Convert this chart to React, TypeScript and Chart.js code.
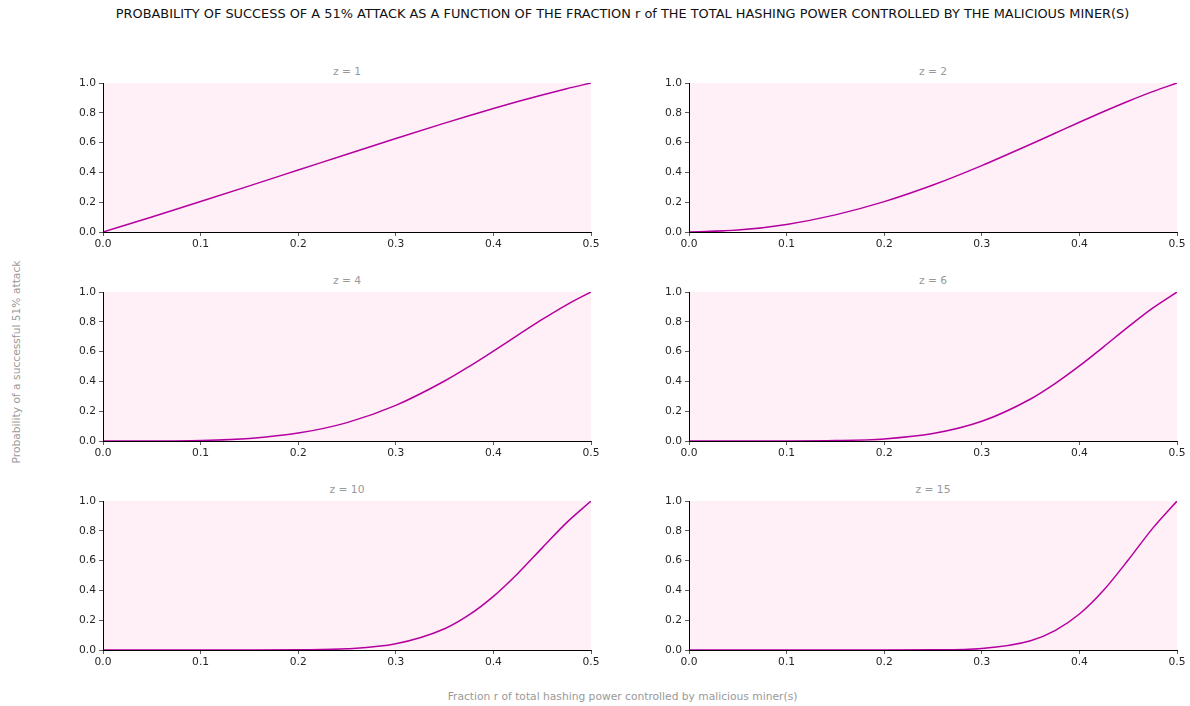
import React, { useEffect, useRef } from "react";
import { Chart, registerables } from "chart.js";

Chart.register(...registerables);

// ---------- data ----------
const fractionR = [0, 0.05, 0.1, 0.15, 0.2, 0.25, 0.3, 0.35, 0.375, 0.4, 0.425, 0.45, 0.475, 0.5];
const probZ1 = [0, 0.1012, 0.2046, 0.3097, 0.4159, 0.5223, 0.6277, 0.7306, 0.7805, 0.8289, 0.8754, 0.9198, 0.9615, 1];
const probZ2 = [0, 0.0126, 0.051, 0.115, 0.2039, 0.3154, 0.4457, 0.5888, 0.6627, 0.7364, 0.8086, 0.8777, 0.9421, 1];
const probZ4 = [0, 0.0002, 0.0035, 0.0173, 0.053, 0.1235, 0.2391, 0.4025, 0.4995, 0.6034, 0.7103, 0.8156, 0.914, 1];
const probZ6 = [0, 0, 0.0002, 0.0027, 0.0142, 0.0499, 0.1321, 0.2821, 0.3851, 0.504, 0.6335, 0.766, 0.8917, 1];
const probZ10 = [0, 0, 0, 0.0001, 0.0016, 0.0085, 0.0417, 0.1428, 0.2351, 0.36, 0.5139, 0.6855, 0.8551, 1];
const probZ15 = [0, 0, 0, 0, 0, 0.0009, 0.0101, 0.0624, 0.1298, 0.2413, 0.4026, 0.6039, 0.8163, 1];

const panelTitles = ["z = 1", "z = 2", "z = 4", "z = 6", "z = 10", "z = 15"];
const panelSeries = [probZ1, probZ2, probZ4, probZ6, probZ10, probZ15];
const xTicks = [0, 0.1, 0.2, 0.3, 0.4, 0.5];
const yTicks = [0, 0.2, 0.4, 0.6, 0.8, 1.0];

const mainTitle =
  "PROBABILITY OF SUCCESS OF A 51% ATTACK AS A FUNCTION OF THE FRACTION r of THE TOTAL HASHING POWER CONTROLLED BY THE MALICIOUS MINER(S)";
const xAxisTitle = "Fraction r of total hashing power controlled by malicious miner(s)";
const yAxisTitle = "Probability of a successful 51% attack";

// ---------- layout ----------
const FONT = "'DejaVu Sans', sans-serif";
const SMALL = 10.7;
const PLOT_W = 488;
const PLOT_H = 149;
const PAD_L = 43;
const PAD_T = 23;
const PAD_R = 29;
const PAD_B = 18;
const COL_LEFTS = [103, 689];
const ROW_TOPS = [83, 292, 501];
const LINE_COLOR = "#b4009f";
const BG_COLOR = "#fff0f7";

const bgPlugin = {
  id: "plotBg",
  beforeDraw(chart: any) {
    const { ctx, chartArea: a } = chart;
    ctx.save();
    ctx.fillStyle = BG_COLOR;
    ctx.fillRect(a.left, a.top, a.right - a.left, a.bottom - a.top);
    ctx.restore();
  },
};

function Panel({ values, left, top }: { values: number[]; left: number; top: number }) {
  const ref = useRef<HTMLCanvasElement | null>(null);
  useEffect(() => {
    if (!ref.current) return;
    const tickFont = { family: FONT, size: SMALL };
    const chart = new Chart(ref.current, {
      type: "line",
      data: {
        datasets: [
          {
            data: fractionR.map((x, i) => ({ x, y: values[i] })),
            borderColor: LINE_COLOR,
            borderWidth: 1.5,
            pointRadius: 0,
            fill: false,
            cubicInterpolationMode: "monotone",
          },
        ],
      },
      options: {
        animation: false,
        responsive: false,
        maintainAspectRatio: false,
        devicePixelRatio: 1,
        layout: { padding: { left: 0, top: PAD_T, right: PAD_R, bottom: 0 } },
        plugins: { legend: { display: false }, tooltip: { enabled: false }, title: { display: false } },
        scales: {
          x: {
            type: "linear",
            min: 0,
            max: 0.5,
            afterBuildTicks: (s: any) => {
              s.ticks = xTicks.map((v) => ({ value: v }));
            },
            afterFit: (s: any) => {
              s.height = PAD_B;
            },
            ticks: {
              font: tickFont,
              color: "#262626",
              padding: 2,
              maxRotation: 0,
              autoSkip: false,
              callback: (v: any) => Number(v).toFixed(1),
            },
            grid: { drawOnChartArea: false, drawTicks: true, tickLength: 4, color: "#333", lineWidth: 0.8 },
            border: { display: true, color: "#000", width: 1, dash: [3, 2], z: 1 },
          },
          y: {
            type: "linear",
            min: 0,
            max: 1,
            afterBuildTicks: (s: any) => {
              s.ticks = yTicks.map((v) => ({ value: v }));
            },
            afterFit: (s: any) => {
              s.width = PAD_L;
            },
            ticks: {
              font: tickFont,
              color: "#262626",
              padding: 3,
              autoSkip: false,
              callback: (v: any) => Number(v).toFixed(1),
            },
            grid: { drawOnChartArea: false, drawTicks: true, tickLength: 4, color: "#333", lineWidth: 0.8 },
            border: { display: true, color: "#000", width: 1, dash: [3, 2], z: 1 },
          },
        },
      } as any,
      plugins: [bgPlugin],
    });
    return () => chart.destroy();
  }, [values]);
  return (
    <canvas
      ref={ref}
      width={PLOT_W + PAD_L + PAD_R}
      height={PLOT_H + PAD_T + PAD_B}
      style={{
        position: "absolute",
        left: left - PAD_L,
        top: top - PAD_T,
        width: PLOT_W + PAD_L + PAD_R,
        height: PLOT_H + PAD_T + PAD_B,
      }}
    />
  );
}

export default function App() {
  useEffect(() => {
    document.body.style.margin = "0";
  }, []);
  return (
    <div
      style={{
        position: "absolute",
        left: 0,
        top: 0,
        width: 1190,
        height: 706,
        overflow: "hidden",
        background: "#fff",
        fontFamily: FONT,
      }}
    >
      <div
        style={{
          position: "absolute",
          left: 622.5,
          top: 6,
          transform: "translateX(-50%)",
          whiteSpace: "nowrap",
          fontSize: 12.9,
          color: "#111",
        }}
      >
        {mainTitle}
      </div>
      {panelSeries.map((vals, i) => {
        const left = COL_LEFTS[i % 2];
        const top = ROW_TOPS[Math.floor(i / 2)];
        return (
          <React.Fragment key={i}>
            <div
              style={{
                position: "absolute",
                left,
                top: top - 18,
                width: PLOT_W,
                textAlign: "center",
                fontSize: SMALL,
                color: "#999",
                whiteSpace: "nowrap",
              }}
            >
              {panelTitles[i]}
            </div>
            <Panel values={vals} left={left} top={top} />
          </React.Fragment>
        );
      })}
      <div
        style={{
          position: "absolute",
          left: 622.5,
          top: 690,
          transform: "translateX(-50%)",
          whiteSpace: "nowrap",
          fontSize: SMALL,
          color: "#999",
        }}
      >
        {xAxisTitle}
      </div>
      <div
        style={{
          position: "absolute",
          left: 16,
          top: 362,
          transform: "translate(-50%, -50%) rotate(-90deg)",
          whiteSpace: "nowrap",
          fontSize: SMALL,
          color: "#999",
        }}
      >
        {yAxisTitle}
      </div>
    </div>
  );
}
